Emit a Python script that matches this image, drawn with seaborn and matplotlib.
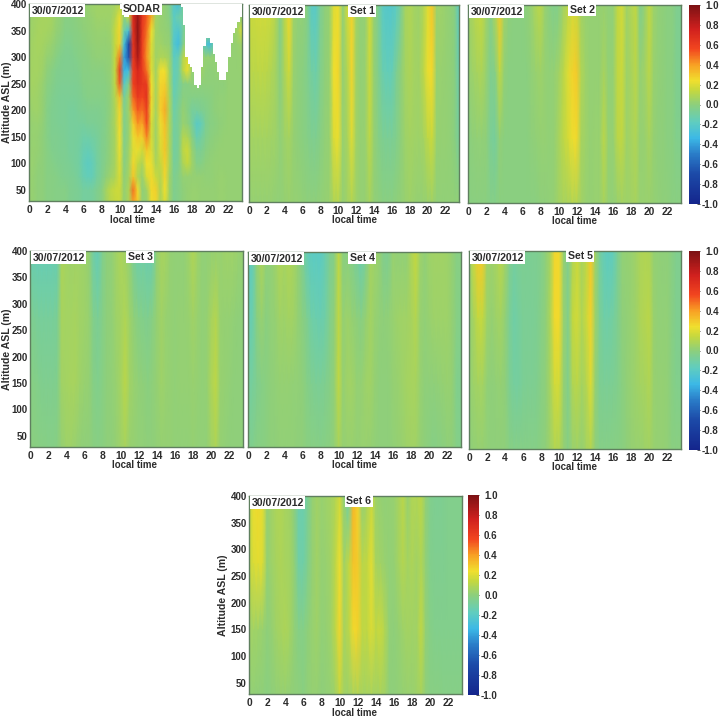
import numpy as np
import matplotlib
matplotlib.use("Agg")
import matplotlib.pyplot as plt
from matplotlib.colors import LinearSegmentedColormap, ListedColormap
import seaborn as sns

sns.set_theme(style="white")
plt.rcParams["font.family"] = ["Liberation Sans", "DejaVu Sans"]

DATE_LABEL = "30/07/2012"
HOUR_TICKS = list(range(0, 24, 2))
ALT_TICKS = [50, 100, 150, 200, 250, 300, 350, 400]
CBAR_TICKS = [-1.0, -0.8, -0.6, -0.4, -0.2, 0.0, 0.2, 0.4, 0.6, 0.8, 1.0]

# Vertical wind correlation in hundredths, one value per half hour (00:00 to 23:30).
# SODAR rows run from 25 m to 400 m in 25 m steps.
SODAR_ROWS = [
    [3,2,0,0,-2,-2,-3,-3, -3,-5,-6,-7,-9,-9,-8,-5, -2,5,11,14,15,2,8,38, 30,3,2,22,26,8,18,4, -5,-3,0,2,3,3,2,2, 2,2,3,3,2,2,2,2],
    [3,2,0,0,-2,-2,-3,-3, -3,-5,-6,-7,-9,-9,-8,-5, -2,6,12,15,16,2,8,48, 25,0,5,25,28,8,24,4, -5,-3,0,2,3,3,2,2, 2,2,3,3,2,2,2,2],
    [3,2,0,0,-2,-2,-3,-4, -5,-6,-7,-9,-14,-16,-15,-9, -5,0,4,8,18,0,6,30, 10,3,18,25,15,10,26,5, -6,-3,2,2,2,2,2,1, 1,2,3,3,2,2,2,2],
    [3,3,1,0,-2,-3,-4,-5, -6,-7,-8,-10,-15,-18,-16,-10, -6,-2,2,7,20,-2,5,26, 14,8,24,22,8,14,28,8, -8,-5,8,14,5,-3,-3,0, 1,2,2,2,2,2,2,2],
    [2,3,2,0,-2,-4,-5,-6, -6,-8,-8,-10,-14,-15,-13,-9, -5,-3,2,7,22,-3,4,20, 22,16,30,20,5,18,30,8, -10,-6,12,16,3,-6,-6,-2, 0,1,2,2,2,2,2,2],
    [2,3,2,0,-3,-5,-5,-6, -7,-8,-8,-9,-11,-11,-10,-8, -5,-3,2,7,24,-4,3,22, 30,28,45,18,4,20,30,8, -10,-7,10,8,-2,-14,-10,-4, -1,0,1,2,2,2,2,2],
    [2,3,3,1,-3,-5,-6,-7, -7,-8,-8,-8,-8,-7,-7,-6, -5,-3,2,8,25,-4,3,28, 42,38,55,18,5,22,32,8, -10,-6,3,0,-8,-20,-16,-6, -2,-1,0,1,2,2,2,2],
    [3,4,4,2,-3,-5,-6,-7, -7,-8,-8,-7,-6,-5,-5,-5, -4,-3,1,8,26,-4,4,40, 52,48,60,22,6,28,36,8, -12,-6,2,-2,-8,-8,-6,-4, -2,0,1,1,2,2,2,2],
    [4,5,4,2,-2,-4,-6,-7, -7,-7,-7,-6,-4,-3,-3,-3, -3,-2,1,10,32,-8,4,50, 62,56,66,26,7,28,32,8, -14,-8,-1,-2,-3,-3,-3,-2, -1,0,1,1,2,2,2,2],
    [5,6,5,3,-1,-3,-5,-6, -6,-6,-6,-5,-3,-2,-2,-2, -2,-1,1,12,52,-20,-4,58, 68,64,62,24,7,26,28,7, -16,-10,-3,-2,0,0,0,0, 0,0,0,0,2,2,2,2],
    [5,6,6,4,0,-2,-4,-5, -5,-5,-5,-4,-2,-2,-1,-1, -1,0,2,13,60,-35,-30,58, 72,62,48,20,5,24,24,6, -16,-12,12,22,2,2,4,1, 0,1,2,2,2,2,2,3],
    [5,6,6,5,2,1,-2,-4, -5,-5,-4,-3,-2,-1,0,1, 1,1,2,14,46,-40,-65,62, 86,60,42,18,5,8,8,4, -18,-14,10,18,4,2,3,2, 2,1,1,2,2,2,2,3],
    [4,6,7,6,4,3,0,-2, -4,-4,-3,-2,-1,0,1,2, 2,2,3,14,28,-28,-72,64, 92,60,44,20,5,5,3,2, -22,-30,-6,8,2,2,-8,-25, -30,-6,-2,1,2,2,3,5],
    [4,5,7,7,6,5,2,0, -3,-3,-2,-1,0,1,2,3, 3,3,4,14,26,-12,-28,66, 94,62,48,24,6,3,2,0, -20,-24,-10,2,2,2,2,2, 2,2,2,2,3,3,6,18],
    [3,5,6,7,7,6,3,1, -2,-2,-1,0,1,2,3,4, 4,4,4,10,22,0,12,70, 92,64,52,36,6,3,1,-2, -18,-12,-10,2,2,2,2,2, 2,2,2,2,2,3,3,3],
    [3,4,5,6,6,5,3,1, -1,-1,0,1,2,3,4,5, 5,5,5,6,10,6,20,66, 90,62,46,38,8,3,1,-4, -22,-28,-8,2,2,2,2,2, 2,2,2,2,2,3,3,3],
]

# Lowest altitude of the missing SODAR returns, per quarter hour from 16:45 to 23:30.
MISSING_START_HOUR = 16.75
MISSING_FLOOR = [395, 360, 300, 285, 280, 270, 245, 242, 245, 280, 320, 335, 335, 328, 305, 290,
                 272, 258, 255, 258, 272, 300, 325, 345, 358, 368, 378, 390]
# Small gap at the top of the column near 10:00 to 11:15.
GAP_HOURS = [10.0, 10.25, 10.5, 10.75, 11.0]
GAP_FLOOR = [392, 380, 375, 378, 388]

# Model sets: rows at 25, 150, 275 and 400 m.
SET1_ROWS = [
    [2,2,2,2,2,2,1,1, 2,3,2,2,1,0,0,0, 1,2,3,8,9,2,5,9, 4,2,2,6,1,0,-1,-1, -1,0,1,3,4,3,2,2, 3,4,1,1,1,1,1,1],
    [6,6,6,6,6,5,4,1, 4,6,2,0,-1,-3,-5,-5, -2,1,3,20,22,3,7,20, 5,2,3,12,2,-3,-6,-7, -7,-4,0,4,6,5,4,6, 12,15,3,2,2,1,-1,-8],
    [11,11,12,12,11,9,6,-1, 8,16,3,0,-1,-4,-10,-12, -4,0,3,24,26,2,9,26, 5,1,3,15,2,-5,-14,-16, -15,-6,0,6,8,6,5,11, 22,25,3,3,2,1,-1,-14],
    [15,16,17,17,17,15,9,-4, 11,26,4,1,1,-3,-20,-20, -6,0,3,20,23,1,16,27, 6,1,2,17,2,-7,-20,-22, -22,-18,-7,7,9,6,4,9, 20,30,4,4,3,1,-2,-20],
]
SET2_ROWS = [
    [-1,-1,-1,-1,-1,-3,-3,-1, -1,-1,-1,-1,-1,-1,-1,-1, 0,0,1,2,5,7,7,9, 9,5,3,2,3,3,7,2, 1,3,5,4,5,7,3,3, 3,2,1,0,0,-1,-1,-1],
    [-1,0,1,1,0,-7,-8,1, -1,-1,-1,-1,-1,-1,0,1, 2,2,1,2,7,12,17,23, 25,7,4,2,3,3,11,2, 2,11,13,4,7,9,2,3, 7,2,0,0,-1,-1,-4,-4],
    [2,4,7,8,3,-5,-3,13, 1,-1,-1,-1,-1,-1,1,3, 4,2,1,2,5,11,19,27, 29,9,4,2,2,2,7,1, 2,13,15,4,7,11,2,5, 11,3,1,0,-1,-1,-5,-6],
    [4,8,13,14,5,-3,9,29, 5,0,-1,-1,-1,0,3,9, 11,3,-1,-4,-3,5,11,17, 15,5,3,2,2,2,3,1, 1,13,17,5,9,13,-5,3, 13,4,1,0,-1,-1,-5,-6],
]
SET3_ROWS = [
    [-1,-1,-2,-2,-3,-3,-2,2, 4,4,3,1,0,0,-1,-2, -1,0,0,2,4,7,3,2, 1,1,0,0,1,2,2,2, 1,1,1,1,2,1,1,1, 5,8,2,1,0,0,0,0],
    [-2,-3,-4,-5,-5,-5,-4,5, 6,7,7,4,3,2,-3,-4, -2,0,1,3,6,11,5,3, 1,0,-1,0,2,4,3,2, 1,2,2,2,3,2,1,2, 8,12,3,2,1,0,0,0],
    [-5,-7,-8,-8,-8,-8,-7,7, 6,6,7,5,4,3,-4,-7, -3,0,1,4,6,9,4,0, -3,-4,-5,-2,2,5,3,2, 1,2,2,3,5,3,1,2, 7,10,3,2,2,1,0,0],
    [-13,-15,-15,-15,-15,-15,-14,8, 6,4,5,5,4,2,-11,-15, -4,0,1,5,8,5,1,-9, -13,-11,-14,-13,2,7,6,2, 1,1,1,4,9,4,1,1, 2,3,3,4,4,4,3,2],
]
SET4_ROWS = [
    [-5,-4,-2,-2,-1,0,0,1, 1,1,1,0,0,-1,-2,-2, -3,-2,-1,1,7,2,3,3, 2,3,3,2,1,0,0,0, 1,2,3,4,5,5,2,0, -1,-3,-2,-1,0,0,-3,-4],
    [-10,-8,-5,-3,-1,0,1,2, 2,2,1,1,0,-3,-5,-7, -7,-5,-3,1,13,2,5,5, 2,2,4,5,2,0,0,0, 2,3,4,6,7,7,3,0, 0,0,1,2,3,2,-4,-5],
    [-15,-13,-1,3,-1,1,2,5, 4,6,5,2,-1,-5,-11,-13, -14,-11,-4,0,13,2,4,2, 0,-2,2,6,3,1,0,1, 3,4,5,5,7,10,3,1, 3,4,4,4,4,2,-2,-4],
    [-19,-15,2,8,1,1,4,9, 7,9,7,2,-5,-15,-19,-19, -19,-14,-6,-3,13,-1,-1,-4, -9,-14,-6,6,4,2,-5,-5, 3,1,1,1,8,14,4,1, 4,5,5,5,4,2,-2,-2],
]
SET5_ROWS = [
    [0,1,2,2,1,0,0,0, 0,-2,-3,-3,-3,-3,-3,-3, -1,0,4,9,8,2,-2,3, 4,2,6,9,0,-3,-3,-3, -2,-2,-1,0,2,3,3,4, 5,3,2,2,1,-1,-1,-1],
    [1,4,6,6,1,0,1,2, 0,-6,-9,-9,-7,-6,-6,-5, -2,0,7,17,17,2,-4,9, 11,6,10,19,2,-6,-7,-7, -6,-4,-1,1,3,4,6,7, 9,3,2,2,1,-2,-4,-4],
    [1,7,14,14,4,2,4,6, 1,-7,-11,-9,-7,-7,-7,-6, -3,0,8,25,25,3,-4,14, 17,9,15,27,4,-7,-11,-11, -9,-5,0,1,3,4,8,10, 11,3,1,1,1,-2,-5,-5],
    [2,15,29,29,5,4,7,11, 5,-5,-9,-7,-6,-7,-6,-6, -4,0,7,26,25,2,-5,9, 15,7,12,30,4,-9,-16,-18, -16,-6,1,2,3,5,8,9, 8,2,1,0,0,-2,-5,-5],
]
SET6_ROWS = [
    [1,1,0,0,-1,0,1,2, 2,1,0,0,-1,1,2,2, 0,1,2,4,13,5,4,7, 8,6,6,7,5,7,5,0, 0,1,2,3,3,4,7,0, -2,-2,-2,-3,-3,-3,-3,-3],
    [5,5,4,3,0,2,5,7, 8,6,1,-3,-3,0,3,4, 1,2,4,11,26,7,11,25, 27,13,13,19,13,15,9,1, 0,2,4,6,5,5,13,1, -3,-4,-4,-4,-4,-4,-4,-4],
    [13,19,21,19,2,4,7,8, 7,6,1,-11,-11,-4,2,5, 2,3,5,11,23,5,13,31, 29,11,13,21,7,5,3,1, 2,6,10,6,8,5,9,1, -4,-5,-5,-5,-4,-4,-4,-4],
    [11,23,25,21,2,5,8,9, 7,5,-1,-13,-13,-6,2,5, 3,4,6,9,17,0,-11,34, 27,1,7,15,4,2,1,2, 3,7,11,3,9,9,11,1, -4,-6,-6,-5,-4,-4,-4,-4],
]

# Panel name, rows, axes box in pixels (left, right, top, bottom), title centre in pixels.
PANELS = [
    ("SODAR", SODAR_ROWS, (29, 242, 4, 201), (142, 9)),
    ("Set 1", SET1_ROWS, (249, 459, 5, 202), (362, 11)),
    ("Set 2", SET2_ROWS, (468, 681, 5, 203), (582, 10)),
    ("Set 3", SET3_ROWS, (30, 243, 251, 447), (140, 257)),
    ("Set 4", SET4_ROWS, (248, 461, 252, 447), (362, 258)),
    ("Set 5", SET5_ROWS, (469, 681, 251, 449), (580, 256)),
    ("Set 6", SET6_ROWS, (249, 462, 496, 694), (359, 501)),
]
COLORBARS = [(689, 700, 5, 204), (689, 700, 251, 450), (468, 479, 495, 695)]
# Right-hand edge of the rotated altitude label, in pixels.
YLABEL_X = {"SODAR": 12, "Set 3": 12, "Set 6": 228}
TIME_LABEL_X = {"SODAR": 133, "Set 1": 354, "Set 2": 574, "Set 3": 135, "Set 4": 354, "Set 5": 574, "Set 6": 355}

W, H = 721, 724
fig = plt.figure(figsize=(W / 100, H / 100), dpi=100)

corr_cmap = LinearSegmentedColormap.from_list(
    "corr",
    [(0.00, "#14258c"), (0.15, "#1c4aa8"), (0.25, "#2a7cc8"), (0.33, "#3cb8e6"),
     (0.41, "#5fcdc0"), (0.50, "#8dcf7c"), (0.57, "#c4d83f"), (0.62, "#f0df2e"),
     (0.70, "#f8a024"), (0.78, "#f2461f"), (0.88, "#d0201e"), (1.00, "#7c1214")],
)
white_cmap = ListedColormap(["white"])
TEXT = "#2c2c2c"
EDGE = "#5f7f5f"


def px_axes(x0, x1, y0, y1):
    return fig.add_axes([x0 / W, 1 - y1 / H, (x1 - x0) / W, (y1 - y0) / H])


def draw_missing(ax):
    # Missing returns sit on a 5 m by quarter-hour overlay spanning the same axes.
    alts = np.arange(29, 400, 5)
    hours = np.arange(0, 23.5, 0.25)
    cells = np.zeros((alts.size, hours.size), dtype=bool)
    for i, floor in enumerate(MISSING_FLOOR):
        h = MISSING_START_HOUR + i * 0.25
        if h < 23.5:
            cells[alts >= floor, int(round(h / 0.25))] = True
    for h, floor in zip(GAP_HOURS, GAP_FLOOR):
        cells[alts >= floor, int(round(h / 0.25))] = True
    overlay = ax.inset_axes([0, 0, 1, 1])
    sns.heatmap(np.ones(cells.shape), mask=~cells, cmap=white_cmap, cbar=False,
                ax=overlay, xticklabels=False, yticklabels=False)
    overlay.set_ylim(0, alts.size)
    overlay.patch.set_alpha(0)
    overlay.axis("off")


for title, rows, box, title_xy in PANELS:
    ax = px_axes(*box)
    values = np.array(rows, dtype=float) / 100
    step = 375 / (values.shape[0] - 1)
    sns.heatmap(values, cmap=corr_cmap, vmin=-1, vmax=1, cbar=False, ax=ax,
                shading="gouraud", xticklabels=False, yticklabels=False)
    ax.set_xlim(0, 47)
    ax.set_ylim((29 - 25) / step, (400 - 25) / step)
    if title == "SODAR":
        draw_missing(ax)

    ax.set_xticks([h * 2 for h in HOUR_TICKS])
    ax.set_xticklabels([str(h) for h in HOUR_TICKS], fontsize=7.4, fontweight="bold", color=TEXT)
    ax.set_yticks([(a - 25) / step for a in ALT_TICKS])
    if title in YLABEL_X:
        ax.set_yticklabels([str(a) for a in ALT_TICKS], fontsize=7, fontweight="bold", color=TEXT)
        ax.set_ylabel("Altitude ASL (m)", fontsize=7.6, fontweight="bold", color=TEXT)
        ax.yaxis.set_label_coords((YLABEL_X[title] - box[0]) / (box[1] - box[0]), 0.5)
    else:
        ax.set_yticklabels([])
    ax.tick_params(axis="x", length=2, width=0.7, direction="in", color="#333333", pad=3,
                   top=True, bottom=True)
    ax.tick_params(axis="y", length=2, width=0.7, direction="in", color="#333333", pad=1.5,
                   left=True, right=True)
    for spine in ax.spines.values():
        spine.set_visible(True)
        spine.set_color(EDGE)
        spine.set_linewidth(1.0)

    box_style = dict(facecolor="white", edgecolor="none", pad=1.0)
    ax.text(0.012, 0.966, DATE_LABEL, transform=ax.transAxes, fontsize=7.6, fontweight="bold",
            color=TEXT, va="center", ha="left", bbox=box_style, zorder=6)
    fig.text(title_xy[0] / W, 1 - title_xy[1] / H, title, fontsize=7.6, fontweight="bold",
             color=TEXT, va="center", ha="center", bbox=box_style, zorder=6)
    fig.text(TIME_LABEL_X[title] / W, 1 - (box[3] + 18.5) / H, "local time", fontsize=7,
             fontweight="bold", color=TEXT, va="center", ha="center")

gradient = np.linspace(1, -1, 256).reshape(-1, 1)
for x0, x1, y0, y1 in COLORBARS:
    cax = px_axes(x0, x1, y0, y1)
    sns.heatmap(gradient, cmap=corr_cmap, vmin=-1, vmax=1, cbar=False, ax=cax,
                xticklabels=False, yticklabels=False)
    cax.set_ylim(256, 0)
    cax.yaxis.tick_right()
    cax.set_yticks([(1 - t) / 2 * 256 for t in CBAR_TICKS])
    cax.set_yticklabels([f"{t:.1f}" for t in CBAR_TICKS], rotation=0, fontsize=7,
                        fontweight="bold", color=TEXT, ha="right")
    cax.tick_params(axis="y", length=2, width=0.6, direction="in", color="#333333", pad=13.5)

fig.savefig("out.png", dpi=100, facecolor="white")
